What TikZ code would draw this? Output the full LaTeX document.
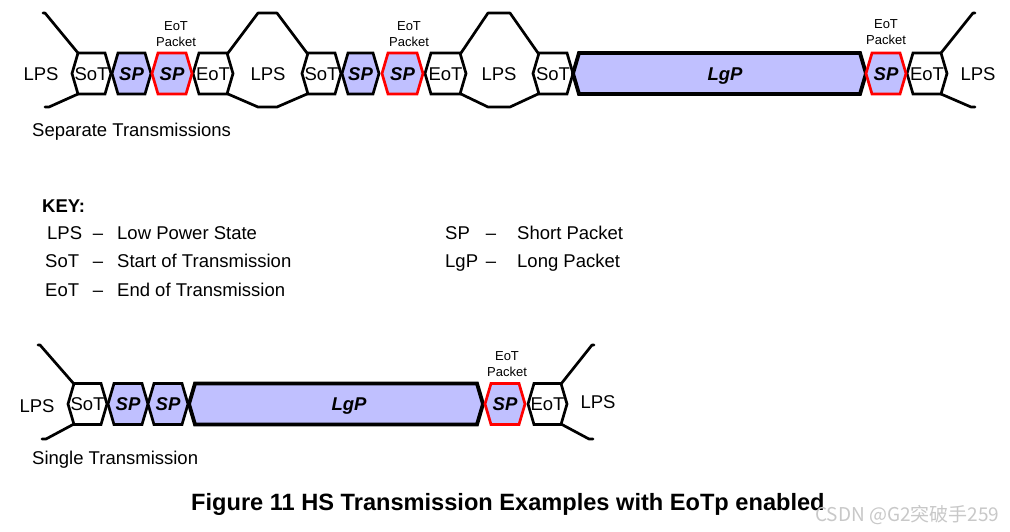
\documentclass[tikz,border=0pt]{standalone}
\usepackage{fontspec}
\setmainfont{Liberation Sans}
\newfontfamily\cjk{Noto Sans CJK SC}
\definecolor{pktblue}{HTML}{C0C0FF}
\definecolor{wmgray}{HTML}{C8C8C8}
\tikzset{
  hexplain/.style={draw=black,fill=white,line width=2.7pt,line join=miter},
  hexblue/.style={draw=black,fill=pktblue,line width=2.7pt,line join=miter},
  hexred/.style={draw=red,fill=pktblue,line width=2.7pt,line join=miter},
  hexlong/.style={draw=black,fill=pktblue,line width=3.8pt,line join=miter},
  lpsline/.style={draw=black,line width=2.7pt,line join=round,line cap=round},
  lbl/.style={font=\fontsize{18.5}{20}\selectfont,inner sep=0pt,anchor=base},
  pkt/.style={font=\fontsize{18.5}{20}\selectfont\bfseries\itshape,inner sep=0pt,anchor=base},
  small/.style={font=\fontsize{13}{14}\selectfont,inner sep=0pt,anchor=base},
  keyl/.style={font=\fontsize{18.5}{20}\selectfont,inner sep=0pt,anchor=base west},
  keyd/.style={font=\fontsize{18.5}{20}\selectfont,inner sep=0pt,anchor=base}
}
% #1 name, #2 left point x, #3 right point x, #4 mid y, #5 style, #6 label style, #7 text
\newcommand{\hexpkt}[7]{%
  \draw[#5] (#2,#4) -- (#2+6,#4-20.5) -- (#3-6,#4-20.5) -- (#3,#4) -- (#3-6,#4+20.5) -- (#2+6,#4+20.5) -- cycle;
  \node[#6] (#1) at ({(#2+#3)/2},#4+6.6) {#7};%
}
\begin{document}
\begin{tikzpicture}[x=1pt,y=-1pt]
\useasboundingbox (0,0) rectangle (1010,531);
\fill[white] (0,0) rectangle (1010,531);

% ---------------- top row ----------------
\draw[lpsline] (43,13) -- (45,13) -- (78,53);
\draw[lpsline] (78,94) -- (49,107) -- (45,107);
\draw[lpsline] (228,53) -- (258,13) -- (277,13) -- (307,53);
\draw[lpsline] (228,94) -- (258,107) -- (277,107) -- (307,94);
\draw[lpsline] (461,53) -- (488,13) -- (510,13) -- (538,53);
\draw[lpsline] (461,94) -- (488,107) -- (510,107) -- (538,94);
\draw[lpsline] (941,53) -- (973,13) -- (975,13);
\draw[lpsline] (941,94) -- (971,107) -- (975,107);

\node[lbl] (lpsA) at (41,80) {LPS};
\node[lbl] (lpsB) at (268,80) {LPS};
\node[lbl] (lpsC) at (499,80) {LPS};
\node[lbl] (lpsD) at (978,80) {LPS};

\hexpkt{sotA}{72}{111}{73.5}{hexplain}{lbl}{SoT}
\hexpkt{spA}{112}{151}{73.5}{hexblue}{pkt}{SP}
\hexpkt{eotA}{193}{233}{73.5}{hexplain}{lbl}{EoT}
\hexpkt{spB}{152}{192}{73.5}{hexred}{pkt}{SP}
\hexpkt{sotB}{302}{341}{73.5}{hexplain}{lbl}{SoT}
\hexpkt{spC}{342}{379}{73.5}{hexblue}{pkt}{SP}
\hexpkt{eotB}{425}{466}{73.5}{hexplain}{lbl}{EoT}
\hexpkt{spD}{382}{423}{73.5}{hexred}{pkt}{SP}
\hexpkt{sotC}{533}{573}{73.5}{hexplain}{lbl}{SoT}
\hexpkt{lgpA}{573}{866}{73.5}{hexlong}{pkt}{}
\node[pkt] (lgpAt) at (725,80.1) {LgP};
\hexpkt{eotC}{907}{947}{73.5}{hexplain}{lbl}{EoT}
\hexpkt{spE}{866}{906}{73.5}{hexred}{pkt}{SP}

\node[small] (ep1a) at (176,30) {EoT};
\node[small] (ep1b) at (176,46) {Packet};
\node[small] (ep2a) at (409,30) {EoT};
\node[small] (ep2b) at (409,46) {Packet};
\node[small] (ep3a) at (886,28) {EoT};
\node[small] (ep3b) at (886,44) {Packet};

\node[keyl] (sepT) at (32,136) {Separate Transmissions};

% ---------------- key ----------------
\node[keyl,font=\fontsize{18.5}{20}\selectfont\bfseries] (key) at (42,212.6) {KEY:};
\node[keyl] (k1) at (47,239.6) {LPS};
\node[keyd] (k1d) at (98,239.6) {--};
\node[keyl] (k1t) at (117,239.6) {Low Power State};
\node[keyl] (k2) at (45,267.6) {SoT};
\node[keyd] (k2d) at (98,267.6) {--};
\node[keyl] (k2t) at (117,267.6) {Start of Transmission};
\node[keyl] (k3) at (45,296.6) {EoT};
\node[keyd] (k3d) at (98,296.6) {--};
\node[keyl] (k3t) at (117,296.6) {End of Transmission};
\node[keyl] (k4) at (445,239.6) {SP};
\node[keyd] (k4d) at (491,239.6) {--};
\node[keyl] (k4t) at (517,239.6) {Short Packet};
\node[keyl] (k5) at (445,267.6) {LgP};
\node[keyd] (k5d) at (491,267.6) {--};
\node[keyl] (k5t) at (517,267.6) {Long Packet};

% ---------------- bottom row ----------------
\draw[lpsline] (38,345) -- (40,345) -- (74,384);
\draw[lpsline] (74,424) -- (46,439) -- (42,439);
\draw[lpsline] (561,384) -- (592,345) -- (594,345);
\draw[lpsline] (561,424) -- (589,439) -- (593,439);

\node[lbl] (lpsE) at (37,412) {LPS};
\node[lbl] (lpsF) at (598,408) {LPS};

\hexpkt{sotD}{68}{107}{404}{hexplain}{lbl}{SoT}
\hexpkt{spF}{108}{148}{404}{hexblue}{pkt}{SP}
\hexpkt{spG}{148}{188}{404}{hexblue}{pkt}{SP}
\hexpkt{lgpB}{189}{483}{404}{hexlong}{pkt}{}
\node[pkt] (lgpBt) at (349,410.6) {LgP};
\hexpkt{eotD}{528}{567}{404}{hexplain}{lbl}{EoT}
\hexpkt{spH}{485}{525}{404}{hexred}{pkt}{SP}

\node[small] (ep4a) at (507,360) {EoT};
\node[small] (ep4b) at (507,376) {Packet};

\node[keyl] (sinT) at (32,464) {Single Transmission};

% ---------------- caption ----------------
\node[font=\fontsize{23.6}{25}\selectfont\bfseries,inner sep=0pt,anchor=base west] (cap) at (191,510) {Figure 11 HS Transmission Examples with EoTp enabled};
\node[font=\cjk\fontsize{19}{21}\selectfont,text=wmgray,inner sep=0pt,anchor=base west] (wm) at (815,521) {CSDN @G2突破手259};
\end{tikzpicture}
\end{document}
